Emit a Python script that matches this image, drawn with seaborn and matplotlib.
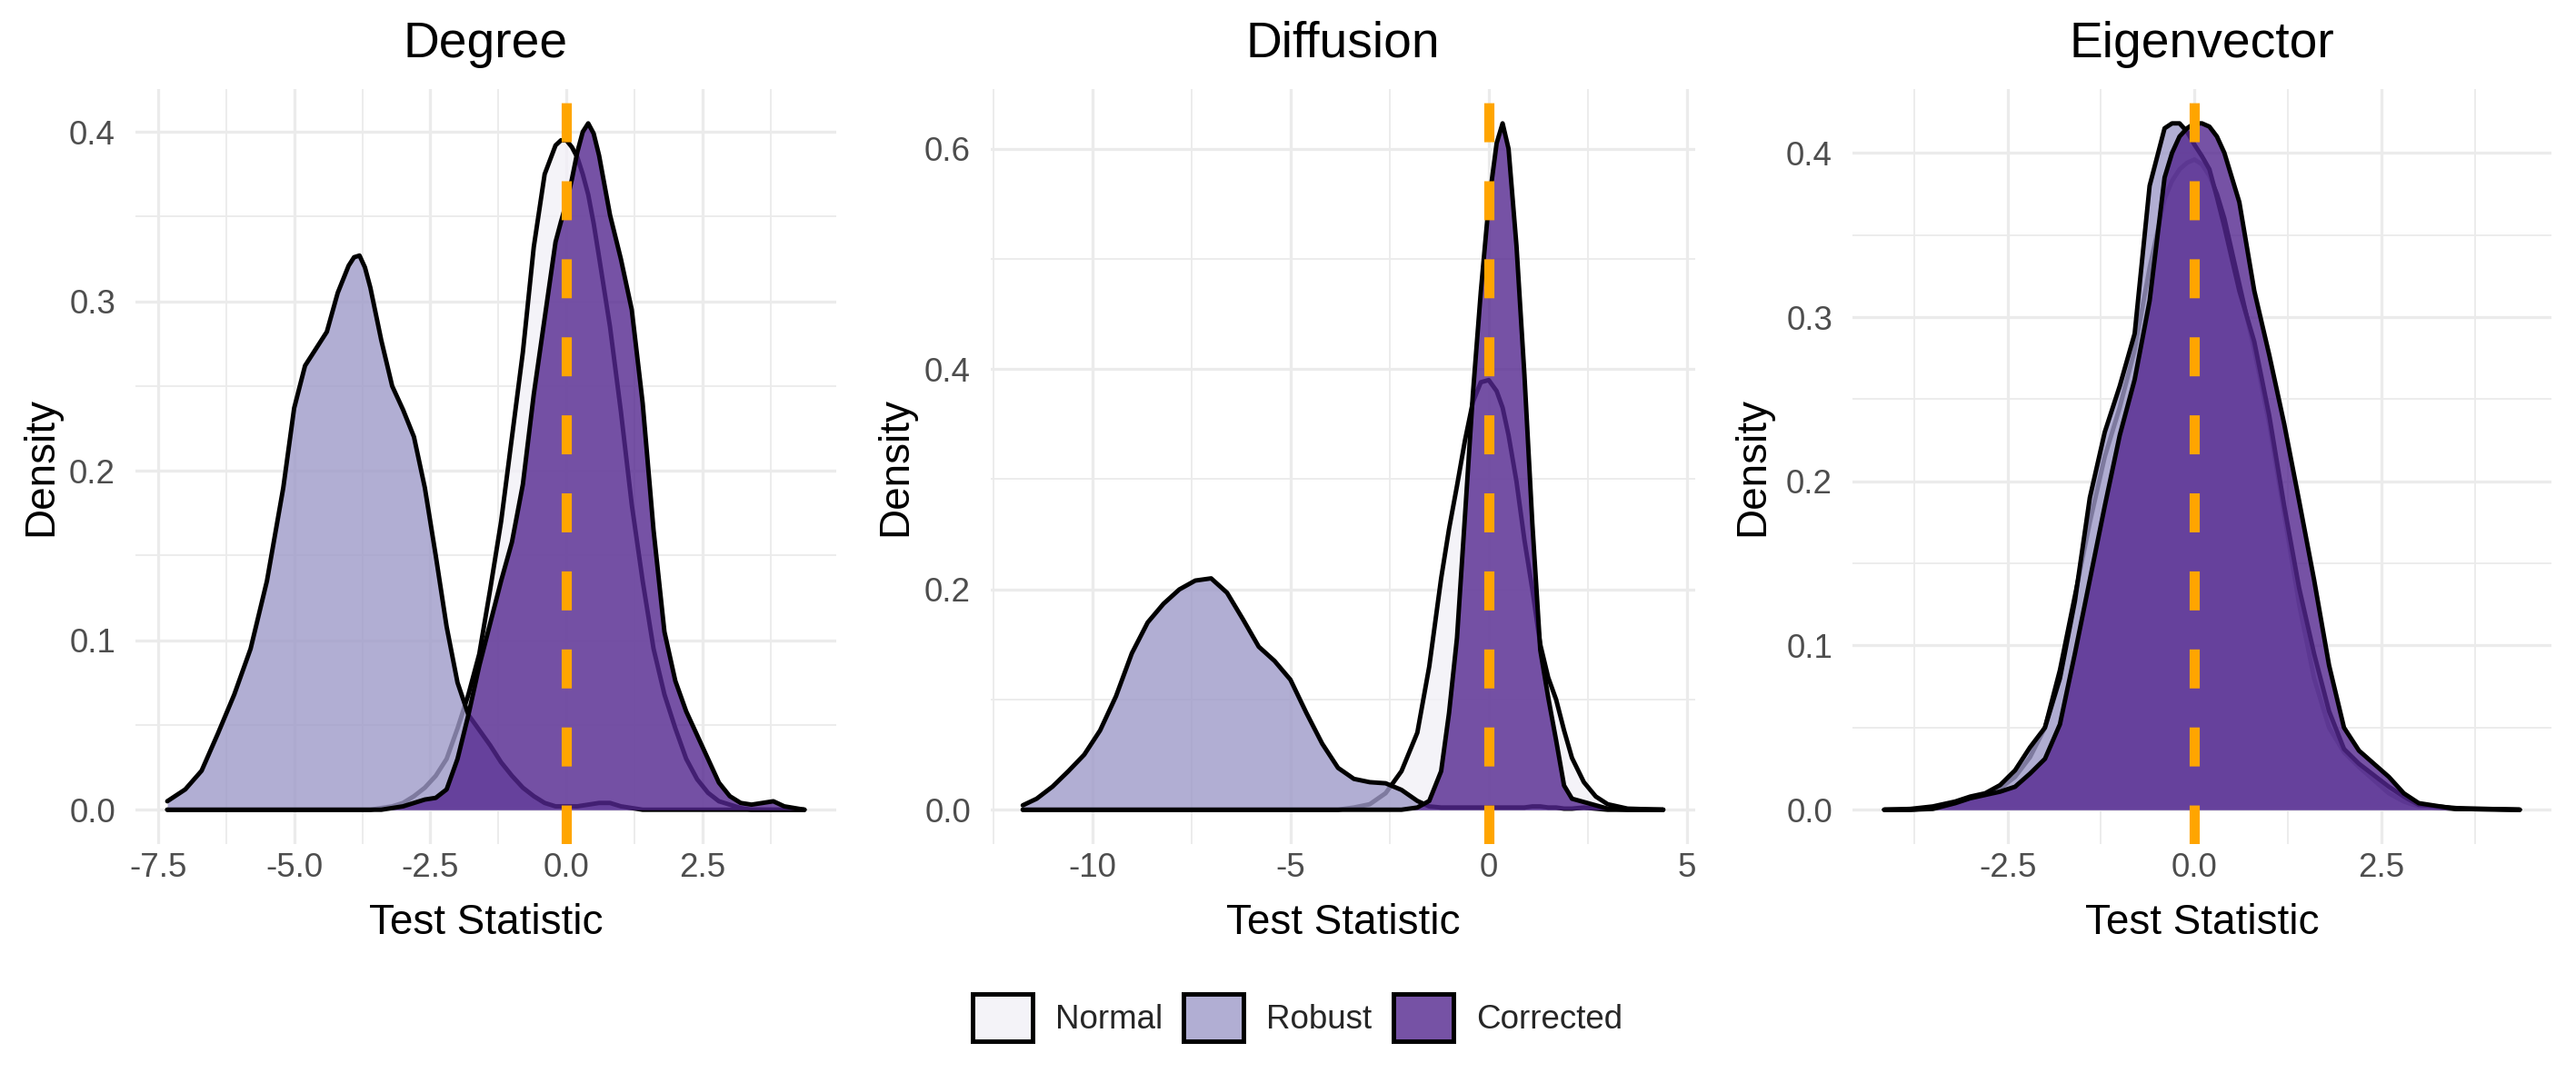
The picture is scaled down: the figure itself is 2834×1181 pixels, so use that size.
import numpy as np
import pandas as pd
import matplotlib
matplotlib.use("Agg")
import matplotlib.pyplot as plt
import seaborn as sns
from matplotlib.colors import to_rgba
from matplotlib.patches import Patch
from matplotlib.ticker import MultipleLocator, FuncFormatter

# ---- data (density curves per panel) ----
methods = ["Normal", "Robust", "Corrected"]
method_colors = ["#F2F0F7", "#9E9AC8", "#54278F"]

# Degree
deg_x = [-7.33, -7.0, -6.7, -6.4, -6.1, -5.8, -5.5, -5.2, -5.0, -4.8, -4.6, -4.4, -4.2, -4.0,
         -3.9, -3.8, -3.7, -3.6, -3.4, -3.2, -3.0, -2.8, -2.6, -2.4, -2.2, -2.0, -1.8, -1.6,
         -1.4, -1.2, -1.0, -0.8, -0.6, -0.4, -0.2, -0.1, 0.0, 0.1, 0.2, 0.3, 0.4, 0.5, 0.6,
         0.8, 1.0, 1.2, 1.4, 1.6, 1.8, 2.0, 2.2, 2.4, 2.6, 2.8, 3.0, 3.2, 3.4, 3.6, 3.8, 4.0,
         4.37]
deg_normal = [0, 0, 0, 0, 0, 0, 0, 0, 0, 0, 0, 0, 0, 0, 0, 0, 0, 0,
              0.001, 0.002, 0.004, 0.008, 0.013, 0.02, 0.03, 0.048, 0.068, 0.092, 0.13, 0.17,
              0.22, 0.27, 0.332, 0.375, 0.392,
              0.395, 0.395, 0.391, 0.385, 0.375, 0.363, 0.346, 0.326,
              0.285, 0.235, 0.18, 0.135, 0.095, 0.068, 0.048, 0.03, 0.018, 0.01, 0.005, 0.003,
              0.001, 0, 0, 0, 0,
              0]
deg_robust = [0.005, 0.012, 0.023, 0.045, 0.068, 0.095, 0.135, 0.19, 0.237, 0.262, 0.272,
              0.282, 0.305, 0.321, 0.326, 0.327, 0.32, 0.308,
              0.277, 0.25, 0.236, 0.22, 0.19, 0.15, 0.108, 0.075, 0.056, 0.047, 0.038, 0.028,
              0.02, 0.013, 0.008, 0.004, 0.002,
              0.002, 0.002, 0.002, 0.002, 0.0025, 0.003, 0.0035, 0.004,
              0.004, 0.002, 0.001, 0, 0, 0, 0, 0, 0, 0, 0, 0, 0, 0, 0, 0, 0,
              0]
deg_corrected = [0, 0, 0, 0, 0, 0, 0, 0, 0, 0, 0, 0, 0, 0, 0, 0, 0, 0,
                 0, 0.001, 0.002, 0.004, 0.006, 0.007, 0.012, 0.03, 0.056, 0.085, 0.11, 0.135,
                 0.158, 0.192, 0.245, 0.29, 0.335,
                 0.347, 0.358, 0.372, 0.388, 0.4, 0.405, 0.399, 0.386,
                 0.351, 0.325, 0.295, 0.24, 0.165, 0.105, 0.076, 0.058, 0.044, 0.03, 0.016,
                 0.008, 0.004, 0.003, 0.004, 0.005, 0.002,
                 0]

# Diffusion
dif_x = [-11.75, -11.4, -11.0, -10.6, -10.2, -9.8, -9.4, -9.0, -8.6, -8.2, -7.8, -7.4, -7.0,
         -6.6, -6.2, -5.8, -5.4, -5.0, -4.6, -4.2, -3.8, -3.4, -3.0, -2.6, -2.2, -1.8, -1.5,
         -1.2, -1.0, -0.8, -0.6, -0.4, -0.2, 0.0, 0.2, 0.35, 0.5, 0.7, 0.9, 1.1, 1.3, 1.5, 1.7,
         1.9, 2.1, 2.4, 2.7, 3.0, 3.5, 4.4]
dif_normal = [0, 0, 0, 0, 0, 0, 0, 0, 0, 0, 0, 0, 0, 0, 0, 0, 0, 0, 0, 0, 0,
              0.002, 0.005, 0.015, 0.035, 0.07, 0.13, 0.21, 0.255, 0.294, 0.335, 0.37, 0.388,
              0.39, 0.38, 0.365, 0.34, 0.298, 0.245, 0.2, 0.15, 0.12, 0.1, 0.072, 0.047, 0.025,
              0.012, 0.005, 0.001, 0]
dif_robust = [0.004, 0.01, 0.021, 0.035, 0.05, 0.072, 0.103, 0.142, 0.17, 0.187, 0.2, 0.208,
              0.21, 0.197, 0.173, 0.148, 0.135, 0.118, 0.088, 0.06, 0.038, 0.028, 0.025, 0.024,
              0.018, 0.008, 0.003, 0.002, 0.002, 0.002, 0.002, 0.002, 0.002, 0.002, 0.002,
              0.002, 0.002, 0.002, 0.002, 0.003, 0.003, 0.002, 0.002, 0.001, 0.001, 0.002,
              0.001, 0, 0, 0]
dif_corrected = [0, 0, 0, 0, 0, 0, 0, 0, 0, 0, 0, 0, 0, 0, 0, 0, 0, 0, 0, 0, 0, 0, 0, 0, 0,
                 0.002, 0.008, 0.035, 0.088, 0.156, 0.266, 0.377, 0.47, 0.55, 0.605, 0.623,
                 0.6, 0.512, 0.395, 0.26, 0.145, 0.102, 0.063, 0.022, 0.01, 0.007, 0.004,
                 0.001, 0, 0]

# Eigenvector
eig_x = [-4.15, -3.8, -3.5, -3.2, -3.0, -2.8, -2.6, -2.4, -2.2, -2.0, -1.8, -1.6, -1.4, -1.2,
         -1.0, -0.8, -0.6, -0.4, -0.3, -0.2, -0.1, 0.0, 0.1, 0.2, 0.3, 0.4, 0.6, 0.8, 1.0,
         1.2, 1.4, 1.6, 1.8, 2.0, 2.2, 2.4, 2.6, 2.8, 3.0, 3.5, 4.35]
eig_normal = [0, 0, 0.001, 0.004, 0.007, 0.009, 0.013, 0.02, 0.032, 0.05, 0.085, 0.13, 0.175,
              0.215, 0.245, 0.28, 0.33, 0.372,
              0.383, 0.39, 0.394, 0.396, 0.393, 0.386, 0.375,
              0.36, 0.32, 0.28, 0.235, 0.18, 0.125, 0.08, 0.05, 0.035, 0.026, 0.018, 0.01,
              0.005, 0.002, 0.0005, 0]
eig_robust = [0, 0.0005, 0.002, 0.005, 0.008, 0.01, 0.015, 0.024, 0.038, 0.05, 0.08, 0.127,
              0.19, 0.23, 0.258, 0.29, 0.38, 0.415,
              0.418, 0.418, 0.413, 0.405, 0.398, 0.39, 0.373,
              0.355, 0.316, 0.285, 0.24, 0.185, 0.135, 0.095, 0.06, 0.037, 0.028, 0.021, 0.014,
              0.008, 0.003, 0.001, 0]
eig_corrected = [0, 0, 0.0005, 0.004, 0.007, 0.009, 0.011, 0.014, 0.022, 0.031, 0.052, 0.095,
                 0.14, 0.185, 0.228, 0.262, 0.31, 0.385,
                 0.4, 0.41, 0.415, 0.418, 0.418, 0.416, 0.41,
                 0.4, 0.37, 0.316, 0.277, 0.235, 0.188, 0.14, 0.088, 0.05, 0.036, 0.028, 0.02,
                 0.01, 0.004, 0.0005, 0]

panels = [
    ("Degree", deg_x, [deg_normal, deg_robust, deg_corrected], 2.5, 0.1, "{:.1f}"),
    ("Diffusion", dif_x, [dif_normal, dif_robust, dif_corrected], 5, 0.2, "{:.0f}"),
    ("Eigenvector", eig_x, [eig_normal, eig_robust, eig_corrected], 2.5, 0.1, "{:.1f}"),
]

# ---- styling ----
sns.set_theme(style="whitegrid")
plt.rcParams["font.family"] = ["Liberation Sans", "DejaVu Sans"]
plt.rcParams["axes.unicode_minus"] = False

DPI = 236.2
fig = plt.figure(figsize=(2834 / DPI, 1181 / DPI), dpi=DPI)

W, H = 2834, 1181
panel_px = [(149, 771), (1090, 775), (2038, 769)]
ylab_px = [45, 985, 1928]
top_px, bot_px = 98, 929

for (title, xs, curves, xstep, ystep, xfmt), (left, width), ylx in zip(panels, panel_px, ylab_px):
    ax = fig.add_axes([left / W, 1 - bot_px / H, width / W, (bot_px - top_px) / H])
    ax.set_facecolor("white")

    # Normal, then Robust, then Corrected on top (fill + outline per group)
    for i, (name, color, ys) in enumerate(zip(methods, method_colors, curves)):
        df = pd.DataFrame({"x": xs, "y": ys})
        z = 2 + i * 0.2
        ax.fill_between(df["x"], 0, df["y"], facecolor=to_rgba(color, 0.8), linewidth=0, zorder=z)
        sns.lineplot(data=df, x="x", y="y", color="black", linewidth=1.5, ax=ax,
                     sort=False, estimator=None, zorder=z + 0.1)

    ax.axvline(0, color="#FFA500", linewidth=3.4, linestyle=(0, (3.85, 3.85)), zorder=4)

    # ggplot-like expansion of 5%
    xmin, xmax = min(xs), max(xs)
    xr = xmax - xmin
    ymax = max(max(c) for c in curves)
    ax.set_xlim(xmin - 0.05 * xr, xmax + 0.05 * xr)
    ax.set_ylim(-0.05 * ymax, ymax * 1.05)

    ax.xaxis.set_major_locator(MultipleLocator(xstep))
    ax.xaxis.set_minor_locator(MultipleLocator(xstep / 2))
    ax.yaxis.set_major_locator(MultipleLocator(ystep))
    ax.yaxis.set_minor_locator(MultipleLocator(ystep / 2))
    ax.xaxis.set_major_formatter(FuncFormatter(lambda v, p, f=xfmt: f.format(v)))
    ax.yaxis.set_major_formatter(FuncFormatter(lambda v, p: "{:.1f}".format(v)))

    ax.grid(which="major", color="#EBEBEB", linewidth=1.0)
    ax.grid(which="minor", color="#EBEBEB", linewidth=0.55)
    ax.set_axisbelow(True)
    for s in ax.spines.values():
        s.set_visible(False)
    ax.tick_params(axis="both", which="both", length=0, labelsize=11.2, labelcolor="#4D4D4D")
    ax.tick_params(axis="x", pad=2.6)
    ax.tick_params(axis="y", pad=6.7)

    ax.set_title(title, fontsize=16.8, color="black", pad=10.7)
    ax.set_xlabel("Test Statistic", fontsize=14, color="black")
    ax.xaxis.set_label_coords(0.5, (bot_px - 1016) / (bot_px - top_px))
    ax.xaxis.label.set_va("center")
    ax.set_ylabel("Density", fontsize=14, color="black")
    ax.yaxis.set_label_coords((ylx - left) / width, 0.5)
    ax.yaxis.label.set_va("center")

handles = [Patch(facecolor=to_rgba(c, 0.8), edgecolor="black", linewidth=1.5) for c in method_colors]
fig.legend(handles, methods, loc="center", bbox_to_anchor=(0.5036, 1 - 1120 / H), ncol=3,
           frameon=False, fontsize=11.2, handlelength=1.8, handleheight=1.8,
           handletextpad=0.68, columnspacing=0.63)

fig.savefig("out.png", dpi=DPI, facecolor="white")
